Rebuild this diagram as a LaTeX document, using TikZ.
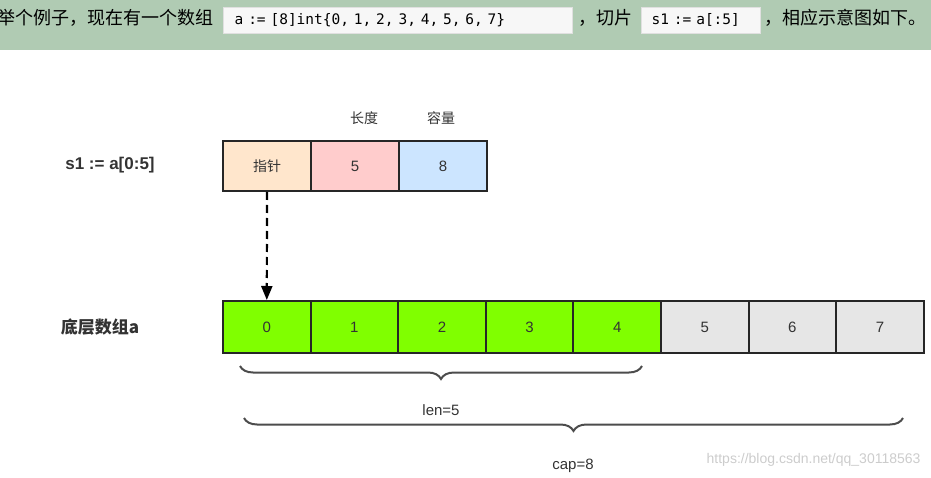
\documentclass[tikz,border=0pt]{standalone}
\usepackage{fontspec}
\setmainfont{Noto Sans CJK SC}
\newfontfamily\lat{Liberation Sans}
\newfontfamily\cod{DejaVu Sans Mono}
\usetikzlibrary{decorations.pathreplacing,arrows.meta}
\definecolor{banner}{HTML}{B0CBB3}
\definecolor{ptr}{HTML}{FFE6CC}
\definecolor{lenc}{HTML}{FFCCCC}
\definecolor{capc}{HTML}{CCE5FF}
\definecolor{grn}{HTML}{80FF00}
\definecolor{gry}{HTML}{E6E6E6}
\definecolor{txt}{HTML}{333333}
\tikzset{cell/.style={draw=black!85,line width=2pt,minimum width=88pt,minimum height=50pt,inner sep=0pt,anchor=north west,font=\lat\fontsize{15}{17}\selectfont,text=txt},
codebox/.style={draw=black!12,fill=black!3,inner sep=0pt,text width=#1,align=left,minimum height=26pt,anchor=west,font=\cod\fontsize{14.5}{16}\selectfont},
brc/.style={decorate,decoration={brace,mirror,amplitude=13pt},line width=2pt,draw=black!70},
lbl/.style={font=\lat\bfseries\fontsize{17}{20}\selectfont,text=txt},
bt/.style={anchor=west,font=\fontsize{18}{20}\selectfont,inner sep=0pt}}
\begin{document}
\begin{tikzpicture}[x=1pt,y=-1pt]
\useasboundingbox (0,0) rectangle (931,478);
\fill[banner] (0,0) rectangle (931,50);
\node[bt] (t1) at (-3,18) {举个例子，现在有一个数组};
\node[codebox=340pt,minimum width=349pt] (c1) at (223,20) {\hspace*{7pt}a := [8]int\{0, 1, 2, 3, 4, 5, 6, 7\}};
\node[bt] (t2) at (578,18) {，切片};
\node[codebox=112pt,minimum width=119pt] (c2) at (641,20) {\hspace*{7pt}s1 := a[:5]};
\node[bt] (t3) at (764,18) {，相应示意图如下。};
\node[cell,fill=ptr,font=\fontsize{14}{16}\selectfont] (p) at (222,140) {指针};
\node[cell,fill=lenc] (l) at (310,140) {5};
\node[cell,fill=capc] (c) at (398,140) {8};
\node[font=\fontsize{14}{16}\selectfont,text=txt] (ll) at (364,118) {长度};
\node[font=\fontsize{14}{16}\selectfont,text=txt] (cl) at (441,118) {容量};
\node[lbl] (s1) at (110,165) {s1 := a[0:5]};
\foreach \i in {0,...,7}{
  \ifnum\i<5 \def\fc{grn}\else\def\fc{gry}\fi
  \node[cell,fill=\fc,minimum width=87.6pt,minimum height=52pt] (a\i) at (222+87.6*\i,300) {\i};
}
\node[lbl,font=\bfseries\fontsize{17}{20}\selectfont] (al) at (100,327) {底层数组a};
\draw[dashed,dash pattern=on 8pt off 5pt,line width=2.2pt,-{Triangle[length=14pt,width=11pt]}] (p.south) -- (a0.north);
\coordinate (b1s) at (240,366); \coordinate (b1e) at (642,366);
\draw[brc] (b1s) -- (b1e);
\node[font=\lat\fontsize{15}{17}\selectfont,text=txt] (lenl) at (441,410) {len=5};
\coordinate (b2s) at (244,418); \coordinate (b2e) at (903,418);
\draw[brc] (b2s) -- (b2e);
\node[font=\lat\fontsize{15}{17}\selectfont,text=txt] (capl) at (573,466) {cap=8};
\node[font=\lat\fontsize{14}{16}\selectfont,text=black!20,anchor=east] (wm) at (924,460) {https://blog.csdn.net/qq\_30118563};
\end{tikzpicture}
\end{document}
